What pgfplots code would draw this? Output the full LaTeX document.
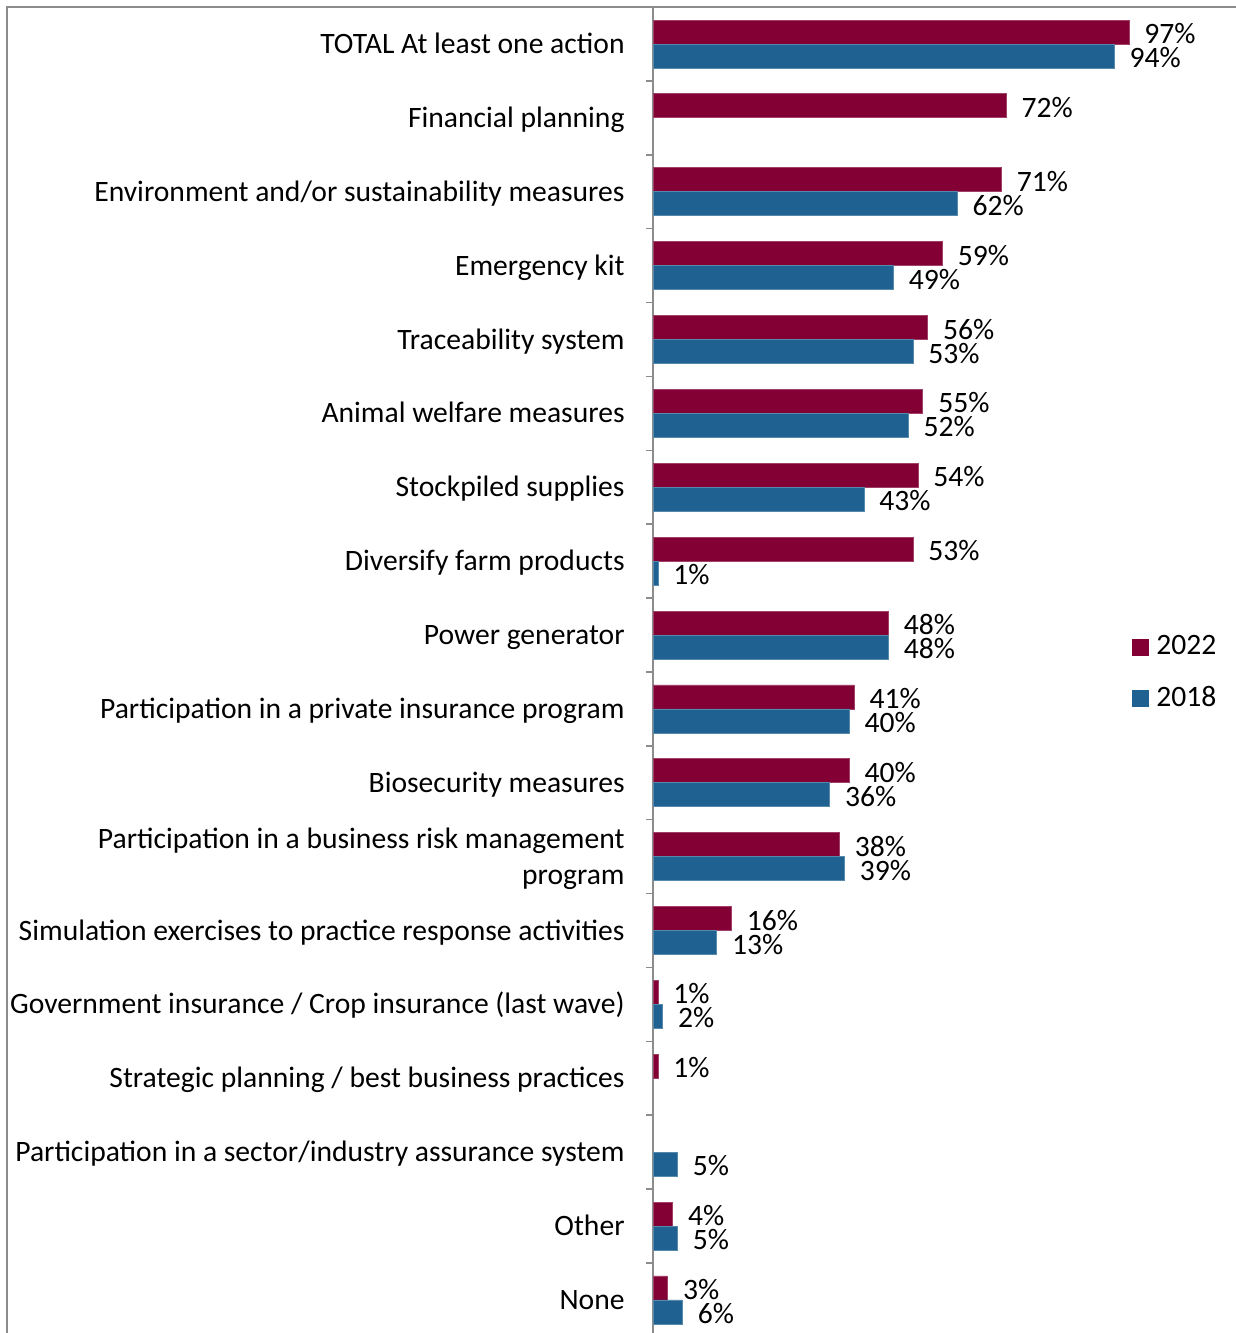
\documentclass[border=0pt]{standalone}
\usepackage{fontspec}
\setmainfont{Carlito}
\usepackage{pgfplots}
\usepackage{pgfplotstable}
\pgfplotsset{compat=1.18}
\definecolor{c22}{RGB}{130,0,52}
\definecolor{c18}{RGB}{31,98,146}
\definecolor{framegray}{RGB}{140,140,140}

\pgfplotstableread{
y v
17 97
16 72
15 71
14 59
13 56
12 55
11 54
10 53
9 48
8 41
7 40
6 38
5 16
4 1
3 1
1 4
0 3
}\dataA
\pgfplotstableread{
y v
17 94
15 62
14 49
13 53
12 52
11 43
10 1
9 48
8 40
7 36
6 39
5 13
4 2
2 5
1 5
0 6
}\dataB

\begin{document}
\fontsize{14.8}{18}\selectfont
\begin{tikzpicture}
\path[use as bounding box] (0,0) rectangle (618pt,666.5pt);
\clip (0,0) rectangle (618pt,666.5pt);
\draw[framegray, line width=0.75pt] (3.5pt,-20pt) rectangle (640pt,663pt);
\begin{axis}[
  at={(326.5pt,-1.925pt)}, anchor=south west,
  scale only axis, width=245.35pt, height=664.875pt,
  xmin=0, xmax=100, ymin=-0.5, ymax=17.5,
  axis y line*=left, axis x line=none,
  y axis line style={draw=framegray, line width=0.75pt},
  ytick={0,...,17},
  yticklabels={None, Other, Participation in a sector/industry assurance system, Strategic planning / best business practices, Government insurance / Crop insurance (last wave), Simulation exercises to practice response activities, {\raisebox{9pt}{\smash{\begin{tabular}[t]{@{}r@{}}Participation in a business risk management\\program\end{tabular}}}}, Biosecurity measures, Participation in a private insurance program, Power generator, Diversify farm products, Stockpiled supplies, Animal welfare measures, Traceability system, Emergency kit, Environment and/or sustainability measures, Financial planning, TOTAL At least one action},
  minor ytick={0.5,1.5,...,16.5},
  major tick length=0pt, minor tick length=3.5pt,
  tick align=outside,
  every tick/.style={draw=framegray, line width=0.75pt},
  yticklabel style={inner sep=0pt, xshift=-14pt, text height=9.5pt, text depth=0pt},
  bar width=12pt,
  clip=false,
  /pgf/number format/assume math mode=true,
  nodes near coords={\pgfmathprintnumber{\pgfplotspointmeta}\%},
  point meta=x,
  every node near coord/.append style={anchor=west, inner sep=0pt, xshift=7.5pt, black, text height=9.5pt, text depth=0pt},
  legend image code/.code={\fill[#1] (0pt,-4.25pt) rectangle (8.5pt,4.25pt);},
  legend style={draw=none, fill=none, at={(axis cs:97.6,9.0)}, anchor=north west, inner sep=0pt, row sep=13.5pt, column sep=3.5pt, nodes={inner sep=0pt}},
  legend cell align=left,
]
\addplot[xbar, forget plot, fill=c22, draw=c22!75!white, line width=0.4pt, bar shift=6pt,
  every node near coord/.append style={yshift=5pt}] table[x=v, y=y] {\dataA};
\addplot[xbar, forget plot, fill=c18, draw=c18!75!white, line width=0.4pt, bar shift=-6pt,
  every node near coord/.append style={yshift=-7pt}] table[x=v, y=y] {\dataB};
\addlegendimage{fill=c22, draw=none}
\addlegendentry{2022}
\addlegendimage{fill=c18, draw=none}
\addlegendentry{2018}
\end{axis}
\end{tikzpicture}
\end{document}
